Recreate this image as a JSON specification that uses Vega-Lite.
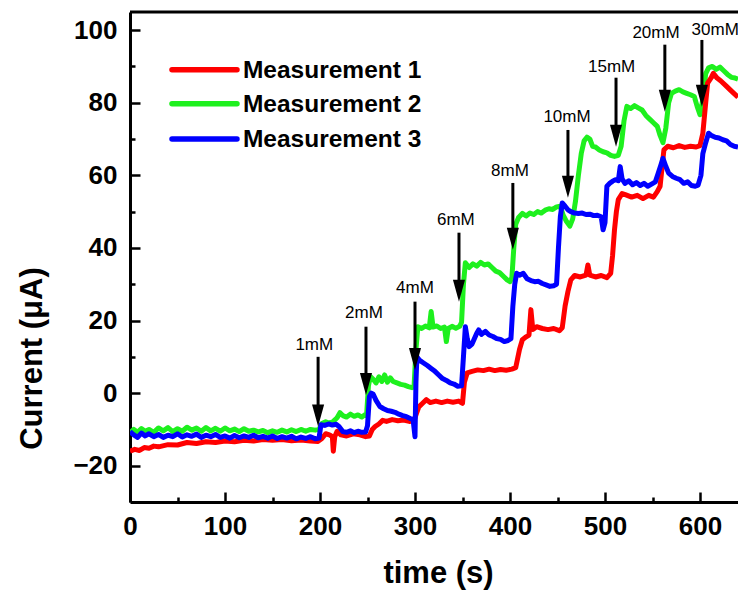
{
  "$schema": "https://vega.github.io/schema/vega-lite/v6.json",
  "width": 608,
  "height": 490,
  "autosize": "none",
  "padding": {"left": 130, "top": 12, "right": 0, "bottom": 89},
  "config": {"view": {"stroke": null}, "font": "Liberation Sans"},
  "datasets": {
    "series": [
      {"s":"Measurement 1","t":0,"v":-16},{"s":"Measurement 1","t":5,"v":-15.5},{"s":"Measurement 1","t":10,"v":-15.8},{"s":"Measurement 1","t":15,"v":-15},{"s":"Measurement 1","t":20,"v":-15.2},{"s":"Measurement 1","t":25,"v":-14.6},{"s":"Measurement 1","t":30,"v":-14.8},{"s":"Measurement 1","t":40,"v":-14.2},{"s":"Measurement 1","t":50,"v":-14.3},{"s":"Measurement 1","t":60,"v":-13.6},{"s":"Measurement 1","t":70,"v":-13.9},{"s":"Measurement 1","t":80,"v":-13.4},{"s":"Measurement 1","t":90,"v":-13.6},{"s":"Measurement 1","t":100,"v":-13.2},{"s":"Measurement 1","t":110,"v":-13.4},{"s":"Measurement 1","t":120,"v":-13},{"s":"Measurement 1","t":130,"v":-13.2},{"s":"Measurement 1","t":140,"v":-12.8},{"s":"Measurement 1","t":150,"v":-13},{"s":"Measurement 1","t":160,"v":-12.8},{"s":"Measurement 1","t":170,"v":-13.1},{"s":"Measurement 1","t":180,"v":-12.9},{"s":"Measurement 1","t":190,"v":-13.2},{"s":"Measurement 1","t":198,"v":-13.3},{"s":"Measurement 1","t":202,"v":-12.5},{"s":"Measurement 1","t":206,"v":-11.2},{"s":"Measurement 1","t":210,"v":-11.5},{"s":"Measurement 1","t":213,"v":-12},{"s":"Measurement 1","t":214,"v":-16},{"s":"Measurement 1","t":215.5,"v":-12},{"s":"Measurement 1","t":218,"v":-10.5},{"s":"Measurement 1","t":222,"v":-11.5},{"s":"Measurement 1","t":228,"v":-11.8},{"s":"Measurement 1","t":235,"v":-11.2},{"s":"Measurement 1","t":242,"v":-11.5},{"s":"Measurement 1","t":248,"v":-12},{"s":"Measurement 1","t":252,"v":-11.8},{"s":"Measurement 1","t":255,"v":-10},{"s":"Measurement 1","t":258,"v":-9.2},{"s":"Measurement 1","t":262,"v":-8.5},{"s":"Measurement 1","t":266,"v":-7.5},{"s":"Measurement 1","t":270,"v":-7.8},{"s":"Measurement 1","t":276,"v":-7.3},{"s":"Measurement 1","t":282,"v":-7.6},{"s":"Measurement 1","t":288,"v":-7.4},{"s":"Measurement 1","t":294,"v":-7.8},{"s":"Measurement 1","t":299,"v":-7.6},{"s":"Measurement 1","t":301,"v":-6},{"s":"Measurement 1","t":304,"v":-3.8},{"s":"Measurement 1","t":308,"v":-2.8},{"s":"Measurement 1","t":312,"v":-1.8},{"s":"Measurement 1","t":316,"v":-2.6},{"s":"Measurement 1","t":322,"v":-2.2},{"s":"Measurement 1","t":328,"v":-2.6},{"s":"Measurement 1","t":334,"v":-2.2},{"s":"Measurement 1","t":340,"v":-2.5},{"s":"Measurement 1","t":346,"v":-2.2},{"s":"Measurement 1","t":350,"v":-2.8},{"s":"Measurement 1","t":352,"v":3},{"s":"Measurement 1","t":355,"v":5.6},{"s":"Measurement 1","t":360,"v":6},{"s":"Measurement 1","t":366,"v":6.4},{"s":"Measurement 1","t":372,"v":6.2},{"s":"Measurement 1","t":378,"v":6.6},{"s":"Measurement 1","t":384,"v":6.2},{"s":"Measurement 1","t":390,"v":6.5},{"s":"Measurement 1","t":396,"v":6.3},{"s":"Measurement 1","t":402,"v":6.6},{"s":"Measurement 1","t":406,"v":7},{"s":"Measurement 1","t":410,"v":12},{"s":"Measurement 1","t":413,"v":14.7},{"s":"Measurement 1","t":417,"v":15.5},{"s":"Measurement 1","t":420,"v":16},{"s":"Measurement 1","t":422,"v":23},{"s":"Measurement 1","t":424,"v":17.5},{"s":"Measurement 1","t":428,"v":18.3},{"s":"Measurement 1","t":434,"v":17.8},{"s":"Measurement 1","t":440,"v":17.5},{"s":"Measurement 1","t":446,"v":17.8},{"s":"Measurement 1","t":452,"v":17.2},{"s":"Measurement 1","t":455,"v":18},{"s":"Measurement 1","t":458,"v":24},{"s":"Measurement 1","t":461,"v":28},{"s":"Measurement 1","t":464,"v":31.2},{"s":"Measurement 1","t":468,"v":32.4},{"s":"Measurement 1","t":474,"v":32},{"s":"Measurement 1","t":480,"v":32.5},{"s":"Measurement 1","t":482,"v":35.3},{"s":"Measurement 1","t":484,"v":32.5},{"s":"Measurement 1","t":490,"v":32},{"s":"Measurement 1","t":496,"v":32.4},{"s":"Measurement 1","t":502,"v":31.8},{"s":"Measurement 1","t":506,"v":33},{"s":"Measurement 1","t":508,"v":38},{"s":"Measurement 1","t":510,"v":45},{"s":"Measurement 1","t":512,"v":50},{"s":"Measurement 1","t":514,"v":53.3},{"s":"Measurement 1","t":518,"v":55},{"s":"Measurement 1","t":522,"v":54.6},{"s":"Measurement 1","t":528,"v":54},{"s":"Measurement 1","t":534,"v":54.5},{"s":"Measurement 1","t":540,"v":53.6},{"s":"Measurement 1","t":546,"v":54.5},{"s":"Measurement 1","t":551,"v":54},{"s":"Measurement 1","t":555,"v":55.5},{"s":"Measurement 1","t":558,"v":57},{"s":"Measurement 1","t":560,"v":62},{"s":"Measurement 1","t":562,"v":67},{"s":"Measurement 1","t":566,"v":68},{"s":"Measurement 1","t":572,"v":67.6},{"s":"Measurement 1","t":578,"v":68.2},{"s":"Measurement 1","t":584,"v":67.7},{"s":"Measurement 1","t":590,"v":68},{"s":"Measurement 1","t":596,"v":67.8},{"s":"Measurement 1","t":600,"v":68.2},{"s":"Measurement 1","t":603,"v":71.6},{"s":"Measurement 1","t":606,"v":80},{"s":"Measurement 1","t":608,"v":85.4},{"s":"Measurement 1","t":612,"v":87},{"s":"Measurement 1","t":614,"v":88.1},{"s":"Measurement 1","t":618,"v":86.8},{"s":"Measurement 1","t":622,"v":86},{"s":"Measurement 1","t":628,"v":84.5},{"s":"Measurement 1","t":634,"v":83},{"s":"Measurement 1","t":640,"v":81.5},

      {"s":"Measurement 2","t":0,"v":-11},{"s":"Measurement 2","t":4,"v":-10},{"s":"Measurement 2","t":8,"v":-10.8},{"s":"Measurement 2","t":12,"v":-9.8},{"s":"Measurement 2","t":16,"v":-10.5},{"s":"Measurement 2","t":20,"v":-10},{"s":"Measurement 2","t":25,"v":-10.8},{"s":"Measurement 2","t":30,"v":-9.6},{"s":"Measurement 2","t":35,"v":-10.4},{"s":"Measurement 2","t":40,"v":-9.5},{"s":"Measurement 2","t":45,"v":-10.6},{"s":"Measurement 2","t":50,"v":-9.8},{"s":"Measurement 2","t":55,"v":-10.5},{"s":"Measurement 2","t":60,"v":-9.4},{"s":"Measurement 2","t":65,"v":-10.2},{"s":"Measurement 2","t":70,"v":-9.6},{"s":"Measurement 2","t":75,"v":-10.5},{"s":"Measurement 2","t":80,"v":-9.5},{"s":"Measurement 2","t":85,"v":-10.4},{"s":"Measurement 2","t":90,"v":-9.7},{"s":"Measurement 2","t":95,"v":-10.5},{"s":"Measurement 2","t":100,"v":-9.6},{"s":"Measurement 2","t":105,"v":-10.4},{"s":"Measurement 2","t":110,"v":-9.9},{"s":"Measurement 2","t":115,"v":-10.6},{"s":"Measurement 2","t":120,"v":-9.8},{"s":"Measurement 2","t":125,"v":-10.5},{"s":"Measurement 2","t":130,"v":-10.2},{"s":"Measurement 2","t":135,"v":-10.7},{"s":"Measurement 2","t":140,"v":-10.3},{"s":"Measurement 2","t":145,"v":-10.9},{"s":"Measurement 2","t":150,"v":-10.4},{"s":"Measurement 2","t":155,"v":-10.8},{"s":"Measurement 2","t":160,"v":-10.2},{"s":"Measurement 2","t":165,"v":-10.7},{"s":"Measurement 2","t":170,"v":-10.1},{"s":"Measurement 2","t":175,"v":-10.6},{"s":"Measurement 2","t":180,"v":-10},{"s":"Measurement 2","t":185,"v":-10.5},{"s":"Measurement 2","t":190,"v":-10},{"s":"Measurement 2","t":195,"v":-10.2},{"s":"Measurement 2","t":199,"v":-10},{"s":"Measurement 2","t":202,"v":-8.4},{"s":"Measurement 2","t":206,"v":-7.9},{"s":"Measurement 2","t":210,"v":-8.3},{"s":"Measurement 2","t":214,"v":-7.8},{"s":"Measurement 2","t":218,"v":-6.8},{"s":"Measurement 2","t":221,"v":-5.4},{"s":"Measurement 2","t":224,"v":-6.2},{"s":"Measurement 2","t":228,"v":-6.6},{"s":"Measurement 2","t":232,"v":-5.8},{"s":"Measurement 2","t":236,"v":-6.4},{"s":"Measurement 2","t":240,"v":-6},{"s":"Measurement 2","t":244,"v":-6.6},{"s":"Measurement 2","t":247,"v":-6},{"s":"Measurement 2","t":249,"v":-6.2},{"s":"Measurement 2","t":251,"v":2},{"s":"Measurement 2","t":253,"v":4.6},{"s":"Measurement 2","t":256,"v":3.8},{"s":"Measurement 2","t":259,"v":2.8},{"s":"Measurement 2","t":262,"v":4.5},{"s":"Measurement 2","t":265,"v":3.2},{"s":"Measurement 2","t":268,"v":5},{"s":"Measurement 2","t":271,"v":3},{"s":"Measurement 2","t":274,"v":4.2},{"s":"Measurement 2","t":277,"v":3.2},{"s":"Measurement 2","t":281,"v":2.8},{"s":"Measurement 2","t":285,"v":2.4},{"s":"Measurement 2","t":289,"v":2.2},{"s":"Measurement 2","t":293,"v":1.8},{"s":"Measurement 2","t":297,"v":1.5},{"s":"Measurement 2","t":299,"v":1.8},{"s":"Measurement 2","t":301,"v":12},{"s":"Measurement 2","t":303,"v":18.3},{"s":"Measurement 2","t":307,"v":17.8},{"s":"Measurement 2","t":311,"v":18.5},{"s":"Measurement 2","t":315,"v":18},{"s":"Measurement 2","t":317,"v":22.5},{"s":"Measurement 2","t":319,"v":18.2},{"s":"Measurement 2","t":323,"v":18.5},{"s":"Measurement 2","t":327,"v":17.8},{"s":"Measurement 2","t":331,"v":18.2},{"s":"Measurement 2","t":333,"v":14.2},{"s":"Measurement 2","t":335,"v":17.8},{"s":"Measurement 2","t":339,"v":18.4},{"s":"Measurement 2","t":343,"v":17.9},{"s":"Measurement 2","t":347,"v":18.4},{"s":"Measurement 2","t":349,"v":19.5},{"s":"Measurement 2","t":351,"v":30},{"s":"Measurement 2","t":353,"v":35.9},{"s":"Measurement 2","t":357,"v":34.6},{"s":"Measurement 2","t":361,"v":35.6},{"s":"Measurement 2","t":365,"v":35},{"s":"Measurement 2","t":369,"v":36},{"s":"Measurement 2","t":373,"v":35.3},{"s":"Measurement 2","t":377,"v":35.6},{"s":"Measurement 2","t":381,"v":34.6},{"s":"Measurement 2","t":385,"v":33.6},{"s":"Measurement 2","t":389,"v":33.2},{"s":"Measurement 2","t":393,"v":32.2},{"s":"Measurement 2","t":397,"v":31.2},{"s":"Measurement 2","t":400,"v":30.7},{"s":"Measurement 2","t":402,"v":31.8},{"s":"Measurement 2","t":404,"v":40},{"s":"Measurement 2","t":406,"v":46.5},{"s":"Measurement 2","t":409,"v":48.4},{"s":"Measurement 2","t":413,"v":49.5},{"s":"Measurement 2","t":417,"v":48.8},{"s":"Measurement 2","t":421,"v":49.6},{"s":"Measurement 2","t":425,"v":49.2},{"s":"Measurement 2","t":429,"v":50},{"s":"Measurement 2","t":433,"v":49.6},{"s":"Measurement 2","t":437,"v":50.4},{"s":"Measurement 2","t":441,"v":50.8},{"s":"Measurement 2","t":445,"v":50.6},{"s":"Measurement 2","t":449,"v":51.3},{"s":"Measurement 2","t":453,"v":51.5},{"s":"Measurement 2","t":456,"v":49},{"s":"Measurement 2","t":459,"v":47.5},{"s":"Measurement 2","t":463,"v":46},{"s":"Measurement 2","t":466,"v":48},{"s":"Measurement 2","t":469,"v":53},{"s":"Measurement 2","t":472,"v":60},{"s":"Measurement 2","t":475,"v":66},{"s":"Measurement 2","t":478,"v":69.5},{"s":"Measurement 2","t":481,"v":70.5},{"s":"Measurement 2","t":484,"v":70},{"s":"Measurement 2","t":487,"v":68},{"s":"Measurement 2","t":490,"v":67.8},{"s":"Measurement 2","t":494,"v":67},{"s":"Measurement 2","t":498,"v":66.5},{"s":"Measurement 2","t":502,"v":66.2},{"s":"Measurement 2","t":506,"v":65.5},{"s":"Measurement 2","t":510,"v":65.2},{"s":"Measurement 2","t":514,"v":65.5},{"s":"Measurement 2","t":517,"v":68},{"s":"Measurement 2","t":520,"v":75},{"s":"Measurement 2","t":523,"v":79},{"s":"Measurement 2","t":527,"v":78.4},{"s":"Measurement 2","t":531,"v":79.2},{"s":"Measurement 2","t":535,"v":78.6},{"s":"Measurement 2","t":539,"v":78},{"s":"Measurement 2","t":543,"v":76.5},{"s":"Measurement 2","t":547,"v":75.5},{"s":"Measurement 2","t":551,"v":74.5},{"s":"Measurement 2","t":555,"v":73.5},{"s":"Measurement 2","t":558,"v":71},{"s":"Measurement 2","t":561,"v":69},{"s":"Measurement 2","t":564,"v":73},{"s":"Measurement 2","t":567,"v":80},{"s":"Measurement 2","t":570,"v":82.6},{"s":"Measurement 2","t":574,"v":83.2},{"s":"Measurement 2","t":578,"v":83.6},{"s":"Measurement 2","t":582,"v":83},{"s":"Measurement 2","t":586,"v":82.6},{"s":"Measurement 2","t":590,"v":82.2},{"s":"Measurement 2","t":594,"v":81.7},{"s":"Measurement 2","t":597,"v":79},{"s":"Measurement 2","t":600,"v":76.7},{"s":"Measurement 2","t":603,"v":81},{"s":"Measurement 2","t":606,"v":88},{"s":"Measurement 2","t":609,"v":89.6},{"s":"Measurement 2","t":613,"v":90},{"s":"Measurement 2","t":617,"v":89.2},{"s":"Measurement 2","t":621,"v":89.8},{"s":"Measurement 2","t":625,"v":88.8},{"s":"Measurement 2","t":629,"v":87.8},{"s":"Measurement 2","t":633,"v":87},{"s":"Measurement 2","t":637,"v":86.8},{"s":"Measurement 2","t":640,"v":86.5},

      {"s":"Measurement 3","t":0,"v":-10.6},{"s":"Measurement 3","t":4,"v":-11.5},{"s":"Measurement 3","t":8,"v":-12.2},{"s":"Measurement 3","t":12,"v":-11},{"s":"Measurement 3","t":16,"v":-11.8},{"s":"Measurement 3","t":20,"v":-11.2},{"s":"Measurement 3","t":25,"v":-12},{"s":"Measurement 3","t":30,"v":-11.4},{"s":"Measurement 3","t":35,"v":-12.2},{"s":"Measurement 3","t":40,"v":-11.6},{"s":"Measurement 3","t":45,"v":-12},{"s":"Measurement 3","t":50,"v":-11.2},{"s":"Measurement 3","t":55,"v":-12.1},{"s":"Measurement 3","t":60,"v":-11.5},{"s":"Measurement 3","t":65,"v":-11.9},{"s":"Measurement 3","t":70,"v":-11.3},{"s":"Measurement 3","t":75,"v":-12.2},{"s":"Measurement 3","t":80,"v":-11.6},{"s":"Measurement 3","t":85,"v":-12},{"s":"Measurement 3","t":90,"v":-11.4},{"s":"Measurement 3","t":95,"v":-12.2},{"s":"Measurement 3","t":100,"v":-11.8},{"s":"Measurement 3","t":105,"v":-12.4},{"s":"Measurement 3","t":110,"v":-11.7},{"s":"Measurement 3","t":115,"v":-12.3},{"s":"Measurement 3","t":120,"v":-11.8},{"s":"Measurement 3","t":125,"v":-12.2},{"s":"Measurement 3","t":130,"v":-11.6},{"s":"Measurement 3","t":135,"v":-12.3},{"s":"Measurement 3","t":140,"v":-11.9},{"s":"Measurement 3","t":145,"v":-12.4},{"s":"Measurement 3","t":150,"v":-11.8},{"s":"Measurement 3","t":155,"v":-12.5},{"s":"Measurement 3","t":160,"v":-12},{"s":"Measurement 3","t":165,"v":-12.4},{"s":"Measurement 3","t":170,"v":-11.9},{"s":"Measurement 3","t":175,"v":-12.6},{"s":"Measurement 3","t":180,"v":-12.1},{"s":"Measurement 3","t":185,"v":-12.5},{"s":"Measurement 3","t":190,"v":-12},{"s":"Measurement 3","t":195,"v":-12.6},{"s":"Measurement 3","t":199,"v":-12.4},{"s":"Measurement 3","t":201,"v":-8.7},{"s":"Measurement 3","t":205,"v":-8.9},{"s":"Measurement 3","t":209,"v":-8.5},{"s":"Measurement 3","t":213,"v":-8.8},{"s":"Measurement 3","t":217,"v":-8.6},{"s":"Measurement 3","t":220,"v":-9.2},{"s":"Measurement 3","t":224,"v":-10.6},{"s":"Measurement 3","t":228,"v":-10.8},{"s":"Measurement 3","t":232,"v":-10.4},{"s":"Measurement 3","t":236,"v":-10.9},{"s":"Measurement 3","t":240,"v":-10.5},{"s":"Measurement 3","t":244,"v":-10.8},{"s":"Measurement 3","t":248,"v":-10.7},{"s":"Measurement 3","t":250,"v":-9},{"s":"Measurement 3","t":252,"v":-1},{"s":"Measurement 3","t":254,"v":0},{"s":"Measurement 3","t":256,"v":-0.3},{"s":"Measurement 3","t":259,"v":-2},{"s":"Measurement 3","t":263,"v":-3.7},{"s":"Measurement 3","t":267,"v":-4.3},{"s":"Measurement 3","t":271,"v":-4.8},{"s":"Measurement 3","t":275,"v":-5},{"s":"Measurement 3","t":279,"v":-5.3},{"s":"Measurement 3","t":283,"v":-5.8},{"s":"Measurement 3","t":287,"v":-6.2},{"s":"Measurement 3","t":291,"v":-6.5},{"s":"Measurement 3","t":295,"v":-7},{"s":"Measurement 3","t":298,"v":-7.3},{"s":"Measurement 3","t":300,"v":-12},{"s":"Measurement 3","t":301,"v":3},{"s":"Measurement 3","t":302,"v":10},{"s":"Measurement 3","t":305,"v":9},{"s":"Measurement 3","t":309,"v":8.3},{"s":"Measurement 3","t":313,"v":7.6},{"s":"Measurement 3","t":317,"v":6.8},{"s":"Measurement 3","t":321,"v":6},{"s":"Measurement 3","t":325,"v":5},{"s":"Measurement 3","t":329,"v":4},{"s":"Measurement 3","t":333,"v":3.5},{"s":"Measurement 3","t":337,"v":2.8},{"s":"Measurement 3","t":341,"v":2.5},{"s":"Measurement 3","t":345,"v":1.9},{"s":"Measurement 3","t":349,"v":2},{"s":"Measurement 3","t":351,"v":10},{"s":"Measurement 3","t":353,"v":18.3},{"s":"Measurement 3","t":355,"v":15},{"s":"Measurement 3","t":357,"v":12.8},{"s":"Measurement 3","t":360,"v":13.5},{"s":"Measurement 3","t":362,"v":14.7},{"s":"Measurement 3","t":365,"v":16.5},{"s":"Measurement 3","t":367,"v":17.4},{"s":"Measurement 3","t":370,"v":16.2},{"s":"Measurement 3","t":374,"v":17},{"s":"Measurement 3","t":378,"v":16},{"s":"Measurement 3","t":382,"v":15.6},{"s":"Measurement 3","t":386,"v":15},{"s":"Measurement 3","t":390,"v":14.8},{"s":"Measurement 3","t":394,"v":14.2},{"s":"Measurement 3","t":398,"v":14.5},{"s":"Measurement 3","t":401,"v":15},{"s":"Measurement 3","t":403,"v":23.9},{"s":"Measurement 3","t":405,"v":30},{"s":"Measurement 3","t":407,"v":33},{"s":"Measurement 3","t":410,"v":32.5},{"s":"Measurement 3","t":414,"v":33},{"s":"Measurement 3","t":418,"v":31.5},{"s":"Measurement 3","t":422,"v":31},{"s":"Measurement 3","t":426,"v":30.7},{"s":"Measurement 3","t":430,"v":30.8},{"s":"Measurement 3","t":434,"v":30.2},{"s":"Measurement 3","t":438,"v":29.8},{"s":"Measurement 3","t":442,"v":29.4},{"s":"Measurement 3","t":446,"v":29.6},{"s":"Measurement 3","t":449,"v":30},{"s":"Measurement 3","t":451,"v":40},{"s":"Measurement 3","t":453,"v":48.6},{"s":"Measurement 3","t":455,"v":52.4},{"s":"Measurement 3","t":458,"v":51.5},{"s":"Measurement 3","t":461,"v":50.5},{"s":"Measurement 3","t":464,"v":50},{"s":"Measurement 3","t":468,"v":49.6},{"s":"Measurement 3","t":472,"v":49.5},{"s":"Measurement 3","t":476,"v":49.6},{"s":"Measurement 3","t":480,"v":49.2},{"s":"Measurement 3","t":484,"v":49.3},{"s":"Measurement 3","t":488,"v":48.9},{"s":"Measurement 3","t":492,"v":49},{"s":"Measurement 3","t":496,"v":48.6},{"s":"Measurement 3","t":498,"v":45},{"s":"Measurement 3","t":500,"v":47},{"s":"Measurement 3","t":502,"v":57},{"s":"Measurement 3","t":505,"v":57.8},{"s":"Measurement 3","t":508,"v":58.4},{"s":"Measurement 3","t":511,"v":58.8},{"s":"Measurement 3","t":514,"v":58.5},{"s":"Measurement 3","t":516,"v":62.4},{"s":"Measurement 3","t":518,"v":59},{"s":"Measurement 3","t":521,"v":57.8},{"s":"Measurement 3","t":525,"v":58.5},{"s":"Measurement 3","t":529,"v":57.4},{"s":"Measurement 3","t":533,"v":58},{"s":"Measurement 3","t":537,"v":57.2},{"s":"Measurement 3","t":541,"v":57.8},{"s":"Measurement 3","t":545,"v":57},{"s":"Measurement 3","t":549,"v":57.6},{"s":"Measurement 3","t":553,"v":58.2},{"s":"Measurement 3","t":556,"v":60.6},{"s":"Measurement 3","t":559,"v":63},{"s":"Measurement 3","t":561,"v":64.7},{"s":"Measurement 3","t":564,"v":62.5},{"s":"Measurement 3","t":567,"v":60.6},{"s":"Measurement 3","t":571,"v":59.7},{"s":"Measurement 3","t":575,"v":59.2},{"s":"Measurement 3","t":579,"v":58.8},{"s":"Measurement 3","t":583,"v":57.8},{"s":"Measurement 3","t":587,"v":58.2},{"s":"Measurement 3","t":591,"v":57.2},{"s":"Measurement 3","t":595,"v":57},{"s":"Measurement 3","t":598,"v":57.3},{"s":"Measurement 3","t":601,"v":60},{"s":"Measurement 3","t":603,"v":66},{"s":"Measurement 3","t":606,"v":69},{"s":"Measurement 3","t":609,"v":71.6},{"s":"Measurement 3","t":612,"v":71},{"s":"Measurement 3","t":616,"v":70.5},{"s":"Measurement 3","t":620,"v":70.3},{"s":"Measurement 3","t":624,"v":69.8},{"s":"Measurement 3","t":628,"v":69.5},{"s":"Measurement 3","t":632,"v":68.5},{"s":"Measurement 3","t":636,"v":68},{"s":"Measurement 3","t":640,"v":67.8}
    ],
    "arrows": [
      {"label":"1mM","t":198,"top":10.0,"shaft":-6.5,"tip":-9.2,"lt":194,"ly":13.3},
      {"label":"2mM","t":248.4,"top":18.3,"shaft":2.2,"tip":-0.5,"lt":246.3,"ly":22.1},
      {"label":"4mM","t":300,"top":25.2,"shaft":9.1,"tip":6.4,"lt":300,"ly":29},
      {"label":"6mM","t":346.3,"top":44.2,"shaft":27.9,"tip":25.2,"lt":343,"ly":47.7},
      {"label":"8mM","t":403,"top":57.9,"shaft":42.2,"tip":39.5,"lt":400,"ly":61.2},
      {"label":"10mM","t":461,"top":72.5,"shaft":56.5,"tip":53.8,"lt":460,"ly":76.1},
      {"label":"15mM","t":511.6,"top":86.9,"shaft":70.6,"tip":67.9,"lt":507,"ly":89.9},
      {"label":"20mM","t":563,"top":96,"shaft":80.2,"tip":77.5,"lt":553.7,"ly":99.2},
      {"label":"30mM","t":602,"top":97.3,"shaft":81.6,"tip":78.9,"lt":616,"ly":100}
    ],
    "legend": [
      {"s":"Measurement 1","t1":44.2,"t2":112.6,"v":89.1,"tl":118.9},
      {"s":"Measurement 2","t1":44.2,"t2":112.6,"v":79.7,"tl":118.9},
      {"s":"Measurement 3","t1":44.2,"t2":112.6,"v":70.0,"tl":118.9}
    ]
  },
  "layer": [
    {
      "data": {"name": "series"},
      "transform": [{"filter": "datum.s === 'Measurement 2'"}],
      "mark": {"type": "line", "strokeWidth": 5, "strokeJoin": "round", "clip": true},
      "encoding": {
        "x": {
          "field": "t", "type": "quantitative", "title": "time (s)",
          "scale": {"domain": [0, 640], "nice": false, "zero": false},
          "axis": {
            "values": [0,50,100,150,200,250,300,350,400,450,500,550,600],
            "labelExpr": "datum.value % 100 === 0 ? datum.label : ''",
            "tickSize": {"condition": {"test": "datum.value % 100 === 0", "value": -10}, "value": -5},
            "tickWidth": 2.5, "tickColor": "black",
            "domainWidth": 3, "domainColor": "black",
            "grid": false, "labelOverlap": false, "labelFlush": false,
            "labelFont": "Liberation Sans", "labelFontWeight": "bold", "labelFontSize": 26, "labelColor": "black",
            "labelPadding": 21,
            "titleFont": "Liberation Sans", "titleFontWeight": "bold", "titleFontSize": 31, "titleColor": "black",
            "titleX": 308, "titleY": 80, "titleBaseline": "alphabetic", "titleAlign": "center"
          }
        },
        "y": {
          "field": "v", "type": "quantitative", "title": "Current (μA)",
          "scale": {"domain": [-30, 105], "nice": false, "zero": false},
          "axis": {
            "values": [-20,-10,0,10,20,30,40,50,60,70,80,90,100],
            "labelExpr": "datum.value % 20 === 0 ? datum.label : ''",
            "tickSize": {"condition": {"test": "datum.value % 20 === 0", "value": -10}, "value": -5},
            "tickWidth": 2.5, "tickColor": "black",
            "domainWidth": 3, "domainColor": "black",
            "grid": false, "labelOverlap": false, "labelFlush": false,
            "labelFont": "Liberation Sans", "labelFontWeight": "bold", "labelFontSize": 26, "labelColor": "black",
            "labelPadding": 23,
            "titleFont": "Liberation Sans", "titleFontWeight": "bold", "titleFontSize": 31, "titleColor": "black",
            "titleX": -98, "titleY": 346, "titleBaseline": "middle", "titleAlign": "center", "titleAngle": -90
          }
        },
        "color": {
          "field": "s", "type": "nominal", "legend": null,
          "scale": {"domain": ["Measurement 1", "Measurement 2", "Measurement 3"], "range": ["#ff0000", "#1ef01e", "#0000ff"]}
        }
      }
    },
    {
      "data": {"name": "series"},
      "transform": [{"filter": "datum.s === 'Measurement 1'"}],
      "mark": {"type": "line", "strokeWidth": 5, "strokeJoin": "round", "clip": true},
      "encoding": {
        "x": {"field": "t", "type": "quantitative", "title": "time (s)"},
        "y": {"field": "v", "type": "quantitative", "title": "Current (μA)"},
        "color": {"field": "s", "type": "nominal", "legend": null}
      }
    },
    {
      "data": {"name": "series"},
      "transform": [{"filter": "datum.s === 'Measurement 3'"}],
      "mark": {"type": "line", "strokeWidth": 5, "strokeJoin": "round", "clip": true},
      "encoding": {
        "x": {"field": "t", "type": "quantitative", "title": "time (s)"},
        "y": {"field": "v", "type": "quantitative", "title": "Current (μA)"},
        "color": {"field": "s", "type": "nominal", "legend": null}
      }
    },
    {
      "data": {"values": [{"edge": 105}]},
      "mark": {"type": "rule", "strokeWidth": 3, "color": "black"},
      "encoding": {
        "y": {"field": "edge", "type": "quantitative", "title": "Current (μA)"}
      }
    },
    {
      "data": {"name": "legend"},
      "mark": {"type": "rule", "strokeWidth": 5.5, "strokeCap": "round"},
      "encoding": {
        "x": {"field": "t1", "type": "quantitative", "title": "time (s)"},
        "x2": {"field": "t2"},
        "y": {"field": "v", "type": "quantitative", "title": "Current (μA)"},
        "color": {"field": "s", "type": "nominal", "legend": null}
      }
    },
    {
      "data": {"name": "legend"},
      "mark": {"type": "text", "align": "left", "baseline": "middle", "font": "Liberation Sans", "fontWeight": "bold", "fontSize": 24.5, "color": "black", "dy": 1},
      "encoding": {
        "x": {"field": "tl", "type": "quantitative", "title": "time (s)"},
        "y": {"field": "v", "type": "quantitative", "title": "Current (μA)"},
        "text": {"field": "s"}
      }
    },
    {
      "data": {"name": "arrows"},
      "mark": {"type": "rule", "strokeWidth": 3, "color": "black"},
      "encoding": {
        "x": {"field": "t", "type": "quantitative", "title": "time (s)"},
        "y": {"field": "top", "type": "quantitative", "title": "Current (μA)"},
        "y2": {"field": "shaft"}
      }
    },
    {
      "data": {"name": "arrows"},
      "mark": {"type": "point", "shape": "M-0.55,-2L0.55,-2L0,0Z", "filled": true, "size": 484, "color": "black", "opacity": 1, "strokeWidth": 0},
      "encoding": {
        "x": {"field": "t", "type": "quantitative", "title": "time (s)"},
        "y": {"field": "tip", "type": "quantitative", "title": "Current (μA)"}
      }
    },
    {
      "data": {"name": "arrows"},
      "mark": {"type": "text", "align": "center", "baseline": "middle", "font": "Liberation Sans", "fontSize": 17, "color": "black"},
      "encoding": {
        "x": {"field": "lt", "type": "quantitative", "title": "time (s)"},
        "y": {"field": "ly", "type": "quantitative", "title": "Current (μA)"},
        "text": {"field": "label"}
      }
    }
  ]
}
